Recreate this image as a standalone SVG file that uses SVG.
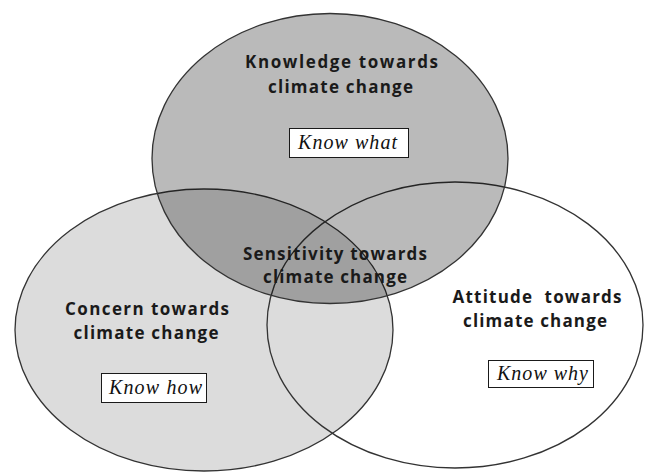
<svg xmlns="http://www.w3.org/2000/svg" width="645" height="475" viewBox="0 0 645 475">
  <style>
    .ring { stroke: #333333; stroke-width: 1.3; }
    .head { font-family: "Open Sans", "Liberation Sans", sans-serif; font-weight: bold; font-size: 17px; fill: #1a1a1a; text-anchor: middle; }
    .tag { fill: #ffffff; stroke: #1a1a1a; stroke-width: 1; }
    .tagtext { font-family: "Liberation Serif", serif; font-style: italic; font-size: 20px; fill: #111111; }
  </style>
  <rect width="645" height="475" fill="#ffffff"/>

  <!-- Concern (left circle) -->
  <g id="concern">
    <ellipse class="ring" cx="204" cy="330" rx="189" ry="141" fill="#dcdcdc"/>
    <text class="head" x="147" y="315" textLength="164">Concern towards</text>
    <text class="head" x="146" y="339" textLength="145">climate change</text>
    <rect class="tag" x="101.5" y="373.5" width="105" height="29"/>
    <text class="tagtext" x="109" y="394" textLength="93">Know how</text>
  </g>

  <!-- Attitude (right circle) -->
  <g id="attitude">
    <ellipse class="ring" cx="455" cy="325" rx="188" ry="143" fill="none"/>
    <text class="head" x="537" y="303" textLength="169" xml:space="preserve">Attitude  towards</text>
    <text class="head" x="535" y="327" textLength="144">climate change</text>
    <rect class="tag" x="488.5" y="360.5" width="105" height="27"/>
    <text class="tagtext" x="497" y="380" textLength="91">Know why</text>
  </g>

  <!-- Knowledge (top circle), translucent so the overlaps darken -->
  <g id="knowledge">
    <ellipse class="ring" cx="330" cy="158.5" rx="178" ry="145" fill="#000000" fill-opacity="0.27"/>
    <text class="head" x="341.5" y="68" textLength="193">Knowledge towards</text>
    <text class="head" x="340.5" y="93" textLength="145">climate change</text>
    <rect class="tag" x="289.5" y="128.5" width="119" height="29"/>
    <text class="tagtext" x="298" y="149" textLength="99">Know what</text>
  </g>

  <!-- Sensitivity (shared centre) -->
  <g id="sensitivity">
    <text class="head" x="335" y="260" textLength="184">Sensitivity towards</text>
    <text class="head" x="335" y="283" textLength="144">climate change</text>
  </g>
</svg>
